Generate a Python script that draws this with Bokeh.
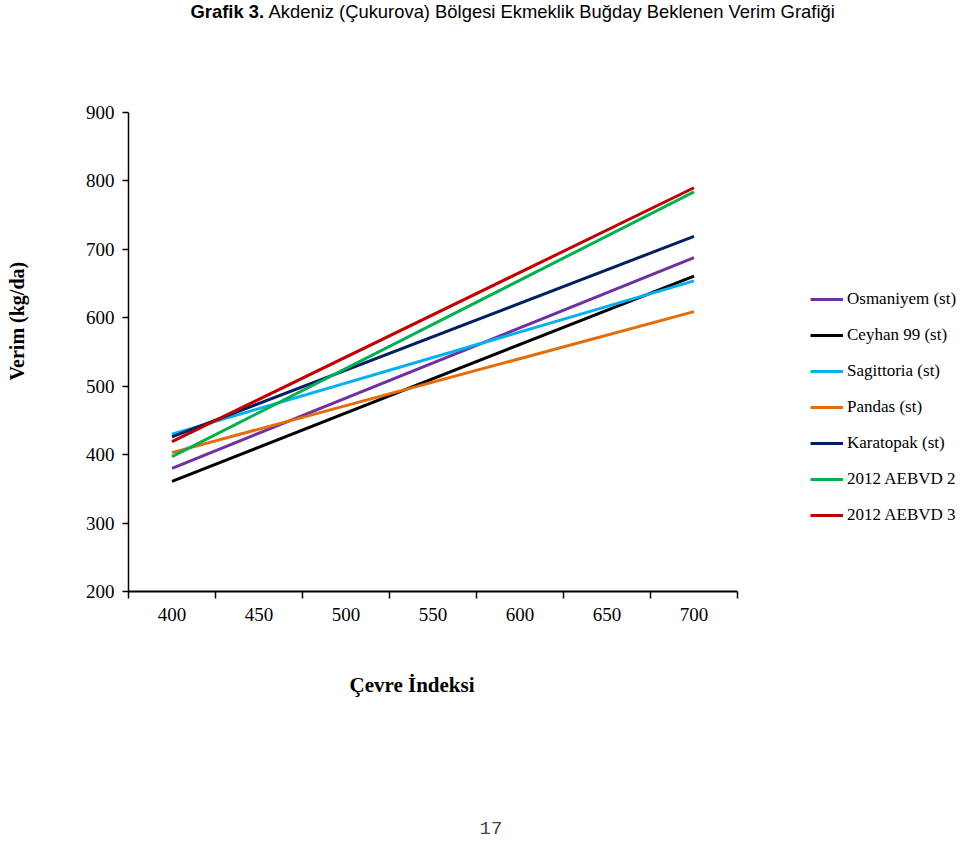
from bokeh.plotting import figure
from bokeh.models import (Range1d, FixedTicker, Legend, LegendItem, Label, LinearAxis, Title)
from bokeh.embed import file_html
from bokeh.resources import INLINE

# ---- data ----
varieties = ["Osmaniyem (st)", "Ceyhan 99 (st)", "Sagittoria (st)", "Pandas (st)",
             "Karatopak (st)", "2012 AEBVD 2", "2012 AEBVD 3"]
env_index = [400, 700]
yield_at_400 = [380, 361, 430, 403, 426, 397, 419]
yield_at_700 = [688, 661, 654, 609, 719, 784, 790]
colors = ["#7030A0", "#000000", "#00B0F0", "#E46C0A", "#002060", "#00B050", "#C00000"]
x_tick_labels = [400, 450, 500, 550, 600, 650, 700]
x_tick_marks = [375, 425, 475, 525, 575, 625, 675, 725]
y_ticks = [200, 300, 400, 500, 600, 700, 800, 900]
x_axis_span = (375, 725)
y_axis_span = (200, 900)
title_bold = "Grafik 3."
title_rest = "Akdeniz (Çukurova) Bölgesi Ekmeklik Buğday Beklenen Verim Grafiği"
x_label = "Çevre İndeksi"
y_label = "Verim (kg/da)"
page_no = "17"

# ---- layout (page pixels) ----
W, H = 960, 845
AX_L, AX_R, AX_T, AX_B = 128, 737, 112, 591   # where the axes lie on the page

xs = (x_axis_span[1] - x_axis_span[0]) / (AX_R - AX_L)
ys = (y_axis_span[1] - y_axis_span[0]) / (AX_B - AX_T)

def px2x(px):
    return x_axis_span[0] + (px - AX_L) * xs

def py2y(py):
    return y_axis_span[1] - (py - AX_T) * ys

serif = "Liberation Serif"

# frame spans from x=128 to the right edge, from the top edge down to y=591
p = figure(width=W, height=H, output_backend="svg", toolbar_location=None, title=None,
           x_range=Range1d(x_axis_span[0], px2x(W)),
           y_range=Range1d(y_axis_span[0], py2y(0)),
           min_border_left=AX_L, min_border_right=0,
           min_border_top=0, min_border_bottom=H - AX_B)
p.outline_line_color = None
p.grid.visible = False

# x axis
xa = p.xaxis[0]
xa.bounds = x_axis_span
xa.ticker = FixedTicker(ticks=x_tick_labels, minor_ticks=x_tick_marks)
xa.major_tick_out = 0
xa.major_tick_in = 0
xa.minor_tick_out = 7
xa.minor_tick_in = 0
xa.minor_tick_line_color = "black"
xa.minor_tick_line_width = 1.5
xa.axis_line_width = 2
xa.axis_line_color = "black"
xa.major_label_standoff = 9
xa.major_label_text_font = serif
xa.major_label_text_font_size = "19px"
xa.major_label_text_color = "black"

# y axis
ya = p.yaxis[0]
ya.bounds = y_axis_span
ya.ticker = FixedTicker(ticks=y_ticks)
ya.major_tick_out = 6
ya.major_tick_in = 0
ya.minor_tick_out = 0
ya.minor_tick_in = 0
ya.axis_line_width = 1.5
ya.major_tick_line_width = 1.5
ya.axis_line_color = "black"
ya.major_tick_line_color = "black"
ya.major_label_standoff = 8
ya.major_label_text_font = serif
ya.major_label_text_font_size = "19px"
ya.major_label_text_color = "black"

def spacer(px, at):
    """Blank axis used only to reserve space in a side panel."""
    return LinearAxis(ticker=FixedTicker(ticks=[at]), major_label_overrides={at: ""},
                      axis_line_color=None, major_tick_line_color="white",
                      minor_tick_line_color=None, major_tick_out=px, major_tick_in=0,
                      minor_tick_out=0, minor_tick_in=0, major_label_standoff=0,
                      major_label_text_font_size="1px")

# y-axis title
p.add_layout(spacer(54, y_axis_span[0]), "left")
p.add_layout(Title(text=y_label, text_font=serif, text_font_size="20px",
                   text_font_style="bold", text_color="black", align="left",
                   offset=AX_B - 380, standoff=2), "left")

# x-axis title and page number
p.add_layout(spacer(46, x_axis_span[0]), "below")
p.add_layout(Title(text=x_label, text_font=serif, text_font_size="21px",
                   text_font_style="bold", text_color="black", align="left",
                   offset=349 - AX_L, standoff=2), "below")
p.add_layout(spacer(121, x_axis_span[0]), "below")
p.add_layout(Title(text=page_no, text_font="Liberation Mono", text_font_size="19px",
                   text_font_style="normal", text_color="#444444", align="left",
                   offset=479 - AX_L, standoff=2), "below")

# series
items = []
for name, a, b, c in zip(varieties, yield_at_400, yield_at_700, colors):
    r = p.line(env_index, [a, b], line_color=c, line_width=3)
    items.append(LegendItem(label=name, renderers=[r]))

legend = Legend(items=items, location=(810 - AX_L, AX_B - 525), orientation="vertical",
                label_text_font=serif, label_text_font_size="17px",
                label_text_color="black", glyph_width=33, glyph_height=20,
                label_height=20, label_standoff=4, spacing=16, padding=0,
                margin=0, border_line_color=None, background_fill_alpha=0)
p.add_layout(legend, "center")

# page title
p.add_layout(Label(x=px2x(190), y=py2y(11), text=title_bold, text_font="Liberation Sans",
                   text_font_size="18.4px", text_font_style="bold", text_color="black",
                   text_align="left", text_baseline="middle"))
p.add_layout(Label(x=px2x(268), y=py2y(11), text=title_rest, text_font="Liberation Sans",
                   text_font_size="18.4px", text_font_style="normal", text_color="black",
                   text_align="left", text_baseline="middle"))

open("out.html", "w").write(file_html(p, INLINE))
